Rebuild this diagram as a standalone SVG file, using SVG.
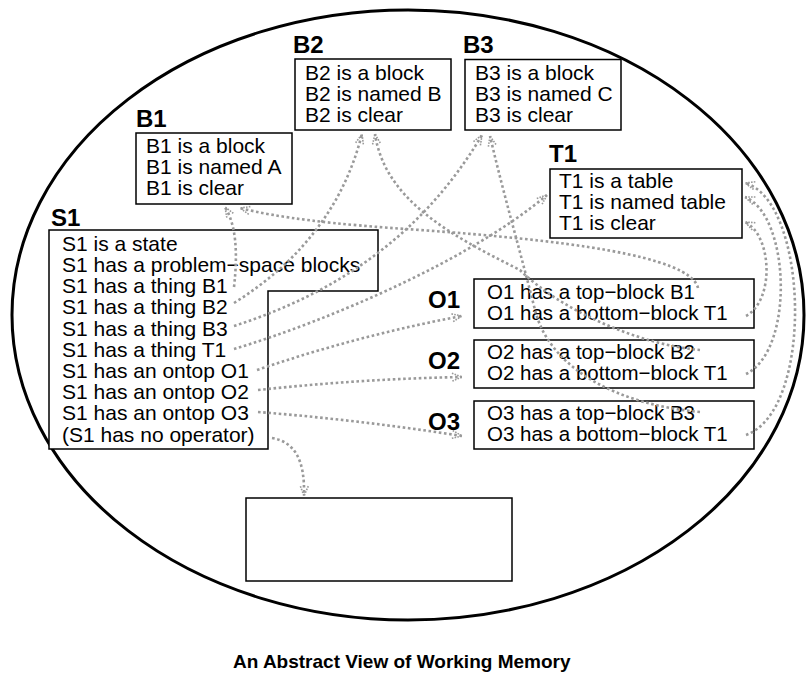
<svg xmlns="http://www.w3.org/2000/svg" width="806" height="675" viewBox="0 0 806 675">
<style>
text{font-family:"Liberation Sans",Arial,Helvetica,sans-serif;fill:#000}
.t{font-size:21px}
.o{font-size:20.5px}
.lbl{font-size:24px;font-weight:bold}
.title{font-size:19px;font-weight:bold}
.box{fill:#fff;stroke:#000;stroke-width:1.5}
.c{fill:none;stroke:#9a9a9a;stroke-width:2.6;stroke-dasharray:2.6 2.6;marker-end:url(#arr)}
</style>
<defs>
<marker id="arr" viewBox="0 0 12 10" refX="11" refY="5" markerWidth="12" markerHeight="10" markerUnits="userSpaceOnUse" orient="auto">
<path d="M1,1 L11,5 L1,9" fill="none" stroke="#9a9a9a" stroke-width="1.6" stroke-dasharray="1.6 1.2"/>
</marker>
</defs>
<rect width="806" height="675" fill="#fff"/>
<ellipse id="wm" cx="408" cy="315" rx="396" ry="305" fill="none" stroke="#000" stroke-width="3"/>

<g id="B1">
<text class="lbl" x="136" y="127">B1</text>
<rect class="box" x="136" y="133" width="156" height="71"/>
<text class="t"><tspan x="146" y="153">B1 is a block</tspan><tspan x="146" y="174">B1 is named A</tspan><tspan x="146" y="195">B1 is clear</tspan></text>
</g>
<g id="B2">
<text class="lbl" x="293" y="53">B2</text>
<rect class="box" x="295" y="59" width="156" height="71"/>
<text class="t"><tspan x="305" y="80">B2 is a block</tspan><tspan x="305" y="101">B2 is named B</tspan><tspan x="305" y="122">B2 is clear</tspan></text>
</g>
<g id="B3">
<text class="lbl" x="463" y="53">B3</text>
<rect class="box" x="465" y="59.5" width="156" height="70.5"/>
<text class="t"><tspan x="475" y="80">B3 is a block</tspan><tspan x="475" y="101">B3 is named C</tspan><tspan x="475" y="122">B3 is clear</tspan></text>
</g>
<g id="T1">
<text class="lbl" x="549" y="162">T1</text>
<rect class="box" x="550" y="169" width="192" height="69"/>
<text class="t"><tspan x="559" y="188">T1 is a table</tspan><tspan x="559" y="209">T1 is named table</tspan><tspan x="559" y="230">T1 is clear</tspan></text>
</g>
<g id="S1">
<text class="lbl" x="51" y="226">S1</text>
<path class="box" d="M49,230 H378 V291 H268 V449 H49 Z"/>
<text class="t">
<tspan x="62" y="251">S1 is a state</tspan>
<tspan x="62" y="272">S1 has a problem−space blocks</tspan>
<tspan x="62" y="293">S1 has a thing B1</tspan>
<tspan x="62" y="314">S1 has a thing B2</tspan>
<tspan x="62" y="336">S1 has a thing B3</tspan>
<tspan x="62" y="357">S1 has a thing T1</tspan>
<tspan x="62" y="378">S1 has an ontop O1</tspan>
<tspan x="62" y="399">S1 has an ontop O2</tspan>
<tspan x="62" y="420">S1 has an ontop O3</tspan>
<tspan x="62" y="442">(S1 has no operator)</tspan>
</text>
</g>
<g id="O1">
<text class="lbl" x="428" y="308">O1</text>
<rect class="box" x="474" y="279" width="280" height="49"/>
<text class="o"><tspan x="487" y="299">O1 has a top−block B1</tspan><tspan x="487" y="320">O1 has a bottom−block T1</tspan></text>
</g>
<g id="O2">
<text class="lbl" x="428" y="369">O2</text>
<rect class="box" x="474" y="340" width="280" height="48"/>
<text class="o"><tspan x="487" y="359">O2 has a top−block B2</tspan><tspan x="487" y="380">O2 has a bottom−block T1</tspan></text>
</g>
<g id="O3">
<text class="lbl" x="428" y="430">O3</text>
<rect class="box" x="474" y="401" width="280" height="48"/>
<text class="o"><tspan x="487" y="420">O3 has a top−block B3</tspan><tspan x="487" y="441">O3 has a bottom−block T1</tspan></text>
</g>
<g id="operator">
<rect class="box" x="246" y="498" width="266" height="83"/>
</g>

<g id="connectors">
<path class="c" d="M234,287 C238,252 236,225 225,207"/>
<path class="c" d="M234,303 Q335,240 362,134"/>
<path class="c" d="M234,326 C330,295 420,240 482,135"/>
<path class="c" d="M234,349 C330,320 470,260 547,195"/>
<path class="c" d="M257,370 Q360,335 462,316"/>
<path class="c" d="M258,390 Q360,379 462,377"/>
<path class="c" d="M258,412 Q360,420 462,436"/>
<path class="c" d="M272,438 C295,442 305,460 304,496"/>
<path class="c" d="M698,288 C690,255 560,240 420,230 C330,224 280,218 240,208"/>
<path class="c" d="M700,350 C640,345 560,310 520,270 C450,235 385,200 375,134"/>
<path class="c" d="M700,412 C620,405 550,370 535,310 C520,250 505,200 490,136"/>
<path class="c" d="M746,316 C775,300 772,235 745,222"/>
<path class="c" d="M746,374 C795,350 790,215 745,197"/>
<path class="c" d="M746,435 C815,410 808,200 745,183"/>
</g>

<text class="title" x="233" y="668">An Abstract View of Working Memory</text>
</svg>
